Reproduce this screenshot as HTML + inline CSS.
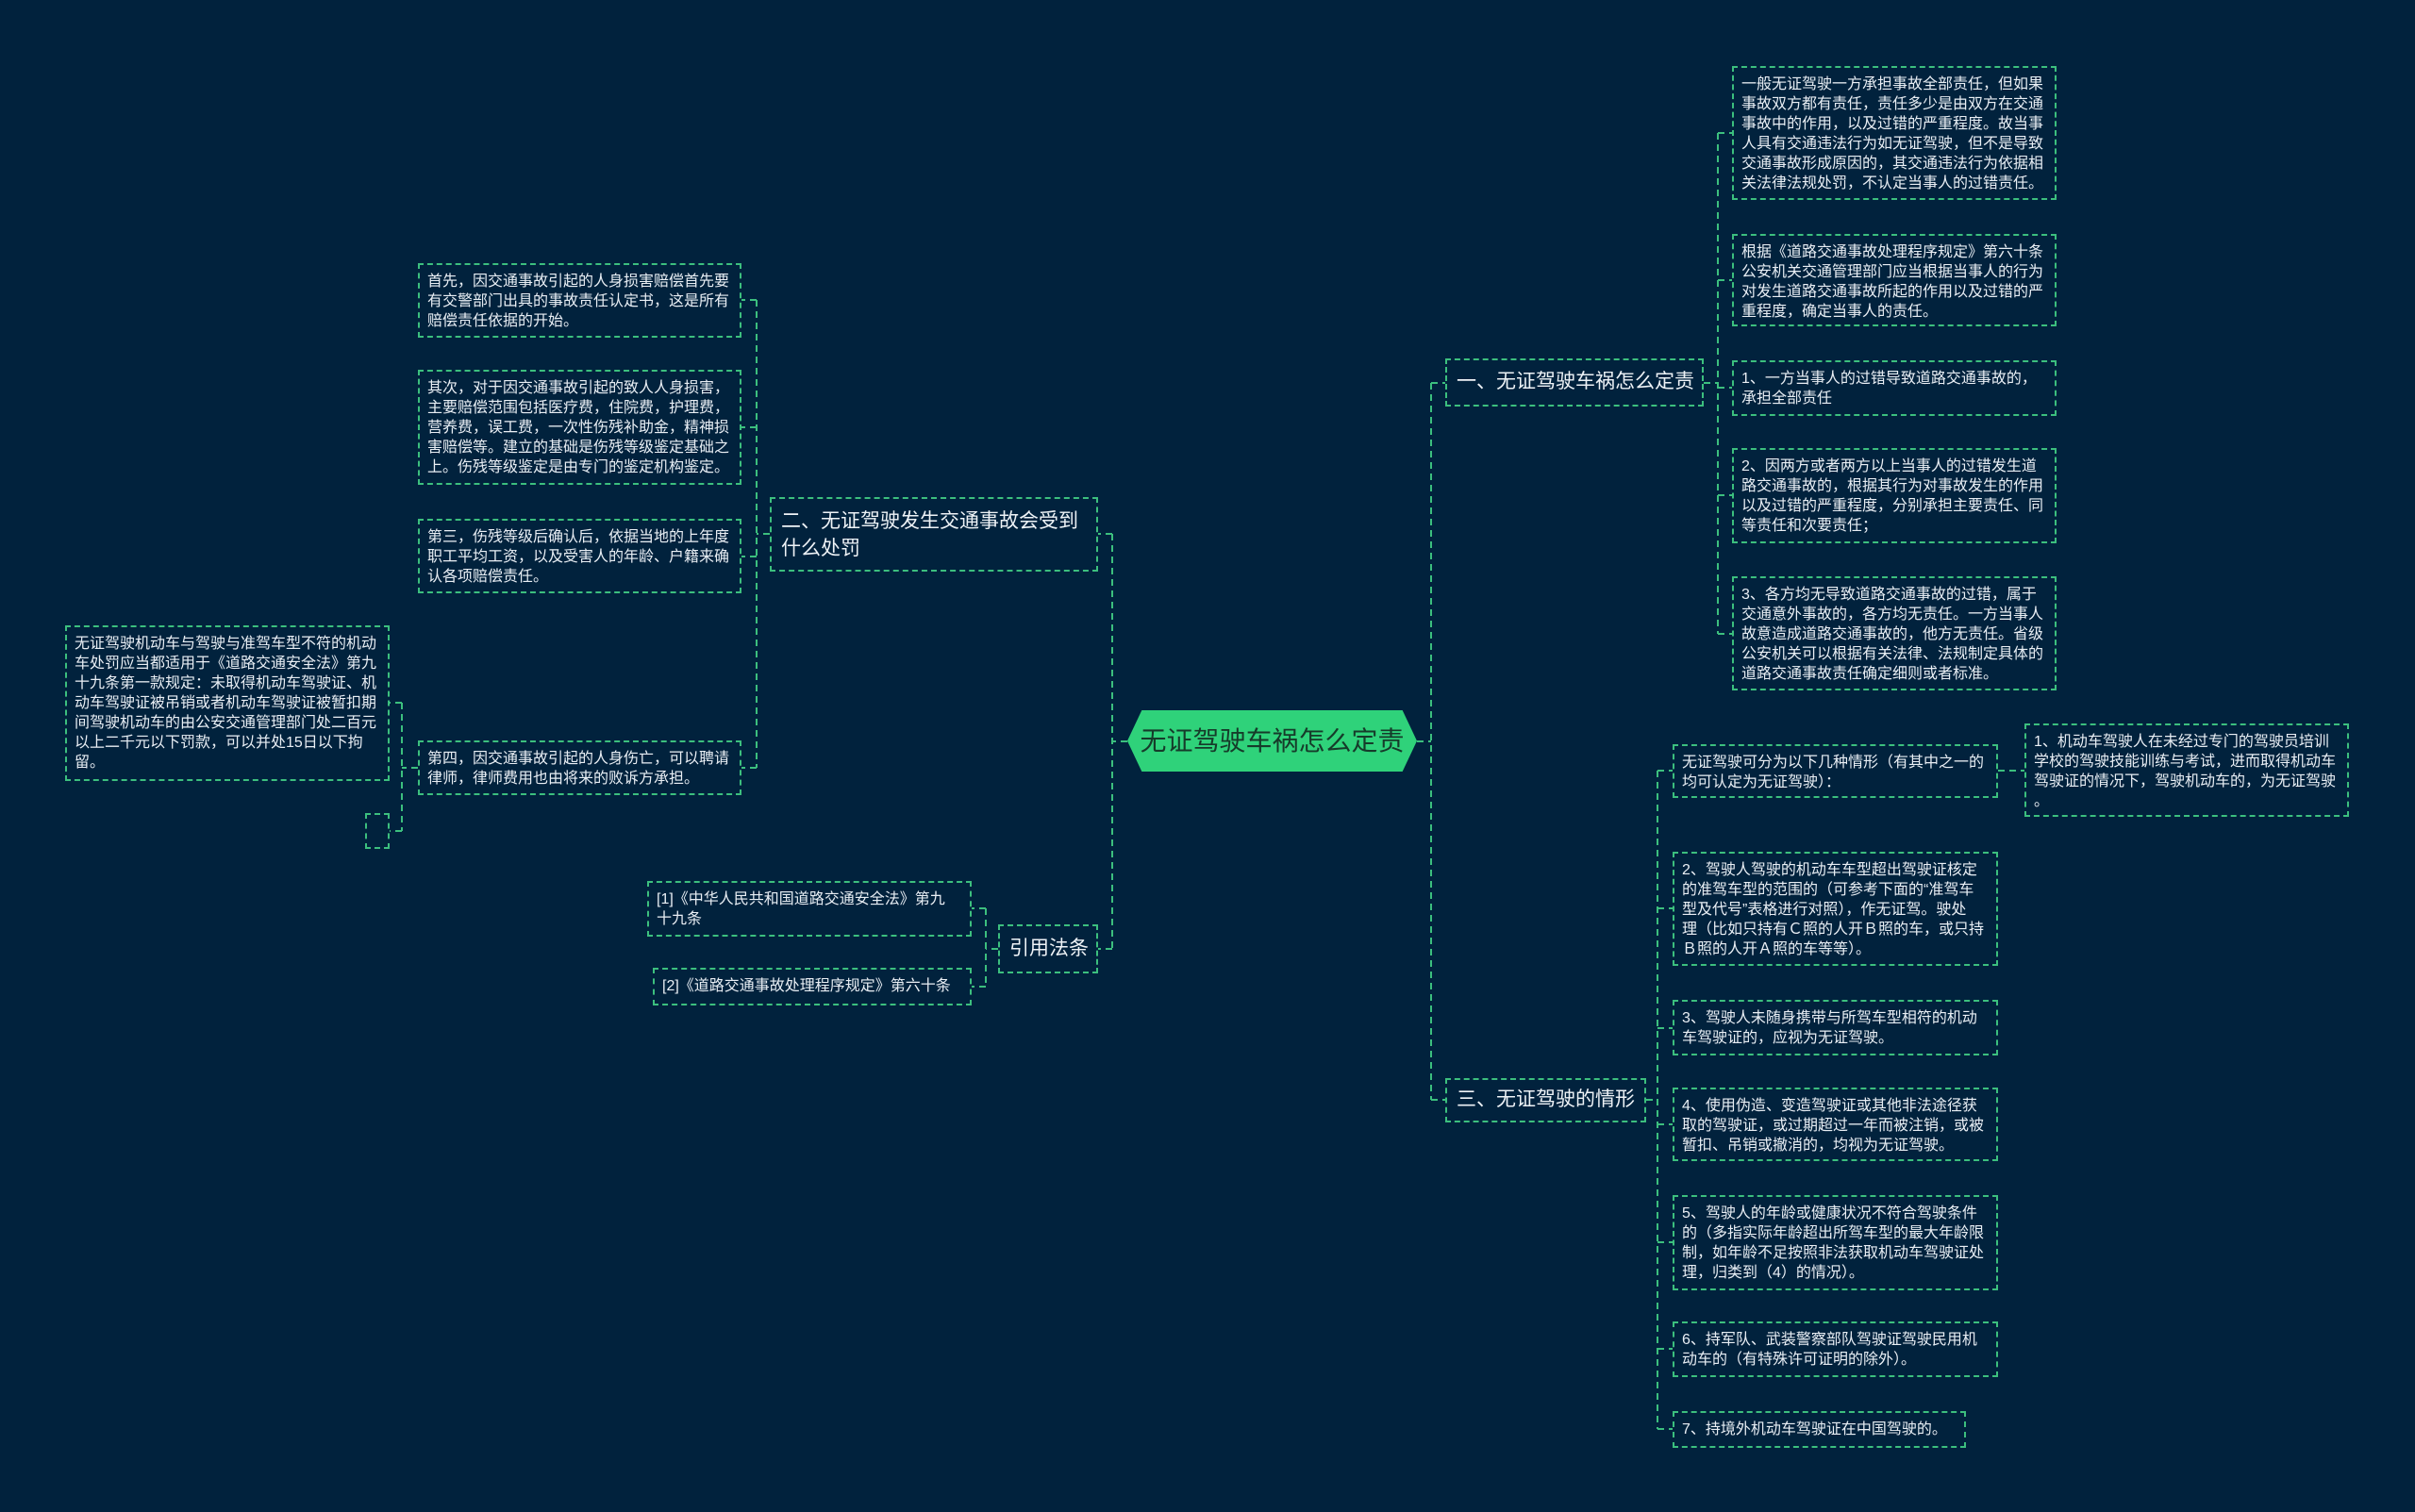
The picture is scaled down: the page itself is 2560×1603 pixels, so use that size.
<!DOCTYPE html>
<html><head><meta charset="utf-8">
<style>
html,body{margin:0;padding:0;}
body{width:2560px;height:1603px;background:#01223d;position:relative;overflow:hidden;font-family:"Liberation Sans","Noto Sans CJK SC",sans-serif;}
.b{position:absolute;box-sizing:border-box;border:2px dashed #3cbf7e;color:#e9eef4;font-size:16px;line-height:21px;padding:7px 8px;white-space:nowrap;}
.n{position:absolute;box-sizing:border-box;border:2px dashed #3cbf7e;color:#eef2f6;font-size:21px;line-height:30px;padding:8px 10px;white-space:nowrap;}
svg{position:absolute;left:0;top:0;}
.c{position:absolute;left:1195px;top:753px;width:307px;height:65px;background:#2fd27a;clip-path:polygon(5% 0,95% 0,100% 50%,95% 100%,5% 100%,0 50%);color:#163b2a;font-size:28px;line-height:65px;text-align:center;}
</style></head><body>
<svg width="2560" height="1603"><g fill="none" stroke="#3cbf7e" stroke-width="2" stroke-dasharray="7,5">
<path d="M1502 786H1517M1517 406V1166M1517 406H1532M1517 1166H1532"/>
<path d="M1806 406H1821M1821 141V672M1821 141H1836M1821 297H1836M1821 411H1836M1821 525H1836M1821 672H1836"/>
<path d="M1745 1166H1757M1757 817V1515M1757 817H1773M1757 963H1773M1757 1090H1773M1757 1192H1773M1757 1317H1773M1757 1430H1773M1757 1515H1773"/>
<path d="M2118 817H2146"/>
<path d="M1195 786H1179M1179 566V1006M1179 566H1164M1179 1006H1164"/>
<path d="M816 566H802M802 318V814M802 318H786M802 453H786M802 590H786M802 814H786"/>
<path d="M443 814H426M426 745V881M426 745H413M426 881H413"/>
<path d="M1058 1006H1045M1045 963V1046M1045 963H1030M1045 1046H1030"/>
</g></svg>
<div class="c">无证驾驶车祸怎么定责</div>

<div class="n" style="left:1532px;top:380px;width:274px;height:51px;">一、无证驾驶车祸怎么定责</div>
<div class="n" style="left:1532px;top:1143px;width:213px;height:47px;padding-top:6px;">三、无证驾驶的情形</div>
<div class="n" style="left:816px;top:527px;width:348px;height:79px;line-height:29px;padding-top:9px;">二、无证驾驶发生交通事故会受到<br>什么处罚</div>
<div class="n" style="left:1058px;top:980px;width:106px;height:52px;padding-top:9px;">引用法条</div>

<div class="b" style="left:1836px;top:70px;width:344px;height:142px;">一般无证驾驶一方承担事故全部责任，但如果<br>事故双方都有责任，责任多少是由双方在交通<br>事故中的作用，以及过错的严重程度。故当事<br>人具有交通违法行为如无证驾驶，但不是导致<br>交通事故形成原因的，其交通违法行为依据相<br>关法律法规处罚，不认定当事人的过错责任。</div>
<div class="b" style="left:1836px;top:248px;width:344px;height:98px;">根据《道路交通事故处理程序规定》第六十条<br>公安机关交通管理部门应当根据当事人的行为<br>对发生道路交通事故所起的作用以及过错的严<br>重程度，确定当事人的责任。</div>
<div class="b" style="left:1836px;top:382px;width:344px;height:59px;">1、一方当事人的过错导致道路交通事故的，<br>承担全部责任</div>
<div class="b" style="left:1836px;top:475px;width:344px;height:101px;">2、因两方或者两方以上当事人的过错发生道<br>路交通事故的，根据其行为对事故发生的作用<br>以及过错的严重程度，分别承担主要责任、同<br>等责任和次要责任；</div>
<div class="b" style="left:1836px;top:611px;width:344px;height:121px;">3、各方均无导致道路交通事故的过错，属于<br>交通意外事故的，各方均无责任。一方当事人<br>故意造成道路交通事故的，他方无责任。省级<br>公安机关可以根据有关法律、法规制定具体的<br>道路交通事故责任确定细则或者标准。</div>

<div class="b" style="left:1773px;top:789px;width:345px;height:57px;">无证驾驶可分为以下几种情形（有其中之一的<br>均可认定为无证驾驶）：</div>
<div class="b" style="left:2146px;top:767px;width:344px;height:99px;">1、机动车驾驶人在未经过专门的驾驶员培训<br>学校的驾驶技能训练与考试，进而取得机动车<br>驾驶证的情况下，驾驶机动车的，为无证驾驶<br>。</div>
<div class="b" style="left:1773px;top:903px;width:345px;height:121px;">2、驾驶人驾驶的机动车车型超出驾驶证核定<br>的准驾车型的范围的（可参考下面的“准驾车<br>型及代号”表格进行对照），作无证驾。驶处<br>理（比如只持有Ｃ照的人开Ｂ照的车，或只持<br>Ｂ照的人开Ａ照的车等等）。</div>
<div class="b" style="left:1773px;top:1060px;width:345px;height:59px;">3、驾驶人未随身携带与所驾车型相符的机动<br>车驾驶证的，应视为无证驾驶。</div>
<div class="b" style="left:1773px;top:1153px;width:345px;height:78px;">4、使用伪造、变造驾驶证或其他非法途径获<br>取的驾驶证，或过期超过一年而被注销，或被<br>暂扣、吊销或撤消的，均视为无证驾驶。</div>
<div class="b" style="left:1773px;top:1267px;width:345px;height:101px;">5、驾驶人的年龄或健康状况不符合驾驶条件<br>的（多指实际年龄超出所驾车型的最大年龄限<br>制，如年龄不足按照非法获取机动车驾驶证处<br>理，归类到（4）的情况）。</div>
<div class="b" style="left:1773px;top:1401px;width:345px;height:59px;">6、持军队、武装警察部队驾驶证驾驶民用机<br>动车的（有特殊许可证明的除外）。</div>
<div class="b" style="left:1773px;top:1496px;width:311px;height:39px;">7、持境外机动车驾驶证在中国驾驶的。</div>

<div class="b" style="left:443px;top:279px;width:343px;height:79px;">首先，因交通事故引起的人身损害赔偿首先要<br>有交警部门出具的事故责任认定书，这是所有<br>赔偿责任依据的开始。</div>
<div class="b" style="left:443px;top:392px;width:343px;height:122px;">其次，对于因交通事故引起的致人人身损害，<br>主要赔偿范围包括医疗费，住院费，护理费，<br>营养费，误工费，一次性伤残补助金，精神损<br>害赔偿等。建立的基础是伤残等级鉴定基础之<br>上。伤残等级鉴定是由专门的鉴定机构鉴定。</div>
<div class="b" style="left:443px;top:550px;width:343px;height:79px;">第三，伤残等级后确认后，依据当地的上年度<br>职工平均工资，以及受害人的年龄、户籍来确<br>认各项赔偿责任。</div>
<div class="b" style="left:443px;top:785px;width:343px;height:58px;">第四，因交通事故引起的人身伤亡，可以聘请<br>律师，律师费用也由将来的败诉方承担。</div>

<div class="b" style="left:69px;top:663px;width:344px;height:165px;">无证驾驶机动车与驾驶与准驾车型不符的机动<br>车处罚应当都适用于《道路交通安全法》第九<br>十九条第一款规定：未取得机动车驾驶证、机<br>动车驾驶证被吊销或者机动车驾驶证被暂扣期<br>间驾驶机动车的由公安交通管理部门处二百元<br>以上二千元以下罚款，可以并处15日以下拘<br>留。</div>
<div class="b" style="left:387px;top:862px;width:26px;height:38px;padding:0;"></div>

<div class="b" style="left:686px;top:934px;width:344px;height:59px;">[1]《中华人民共和国道路交通安全法》第九<br>十九条</div>
<div class="b" style="left:692px;top:1026px;width:338px;height:40px;">[2]《道路交通事故处理程序规定》第六十条</div>
</body></html>
